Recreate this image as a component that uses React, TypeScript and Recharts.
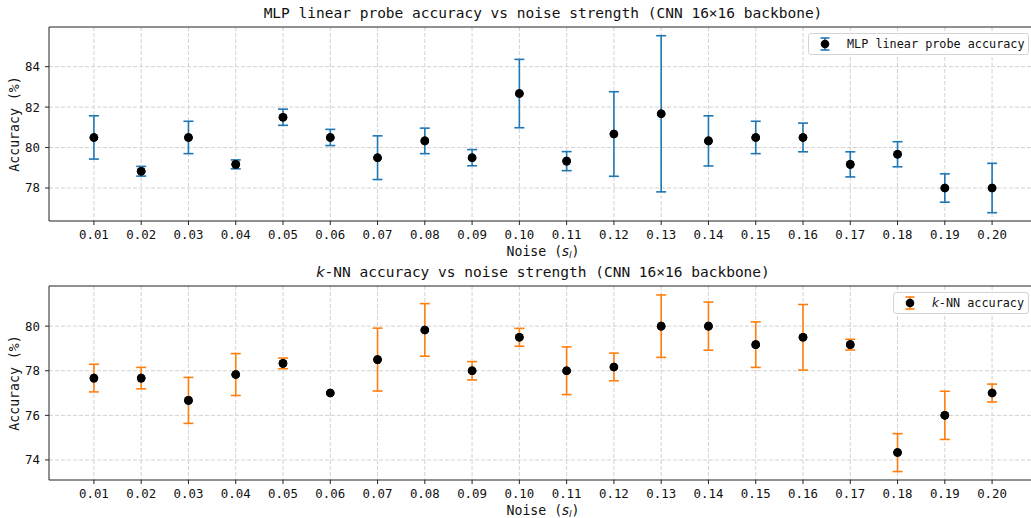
import React from 'react';
import {
  ScatterChart,
  Scatter,
  XAxis,
  YAxis,
  CartesianGrid,
  ErrorBar,
  Legend,
  ReferenceLine,
} from 'recharts';

// ---------- data ----------
const noise = [0.01, 0.02, 0.03, 0.04, 0.05, 0.06, 0.07, 0.08, 0.09, 0.1, 0.11, 0.12, 0.13, 0.14, 0.15, 0.16, 0.17, 0.18, 0.19, 0.2];

const mlpAcc = [80.5, 78.83, 80.5, 79.17, 81.5, 80.5, 79.5, 80.33, 79.5, 82.67, 79.33, 80.67, 81.67, 80.33, 80.5, 80.5, 79.17, 79.67, 78.0, 78.0];
const mlpErr = [1.07, 0.24, 0.8, 0.22, 0.4, 0.4, 1.08, 0.63, 0.4, 1.69, 0.47, 2.09, 3.86, 1.24, 0.8, 0.71, 0.62, 0.62, 0.7, 1.22];

const knnAcc = [77.67, 77.67, 76.67, 77.83, 78.33, 77.0, 78.5, 79.83, 78.0, 79.5, 78.0, 78.17, 80.0, 80.0, 79.17, 79.5, 79.17, 74.33, 76.0, 77.0];
const knnErr = [0.62, 0.48, 1.03, 0.94, 0.24, 0.0, 1.41, 1.18, 0.41, 0.4, 1.07, 0.62, 1.4, 1.08, 1.02, 1.47, 0.24, 0.85, 1.08, 0.4];

const noiseTicks = [0.01, 0.02, 0.03, 0.04, 0.05, 0.06, 0.07, 0.08, 0.09, 0.1, 0.11, 0.12, 0.13, 0.14, 0.15, 0.16, 0.17, 0.18, 0.19, 0.2];
const mlpTicks = [78, 80, 82, 84];
const knnTicks = [74, 76, 78, 80];

const xDomain = [0.0005, 0.2095];
const mlpDomain = [76.37, 85.96];
const knnDomain = [73.1, 81.8];

const BLUE = '#1f77b4';
const ORANGE = '#ff7f0e';
const MONO = '"DejaVu Sans Mono", monospace';
const AXIS = '#222';
const TICK_FS = 12.4;
const LABEL_FS = 13.2;

const mlpData = noise.map((x, i) => ({ x, y: mlpAcc[i], err: mlpErr[i] }));
const knnData = noise.map((x, i) => ({ x, y: knnAcc[i], err: knnErr[i] }));

const Dot = (props: any) => {
  if (props.cx == null || props.cy == null) return null;
  return <circle cx={props.cx} cy={props.cy} r={4.3} fill="#000" />;
};

const XLabel = (props: any) => {
  const vb = props.viewBox || {};
  const cx = vb.x + vb.width / 2;
  const y = vb.y + 34.5;
  return (
    <text x={cx} y={y} textAnchor="middle" fontFamily={MONO} fontSize={LABEL_FS} fill="#111">
      <tspan>Noise (</tspan>
      <tspan fontFamily='"DejaVu Sans", sans-serif' fontStyle="italic">s</tspan>
      <tspan fontFamily='"DejaVu Sans", sans-serif' fontStyle="italic" fontSize={9.2} dy={2.8}>l</tspan>
      <tspan dy={-2.8}>)</tspan>
    </text>
  );
};

const YLabel = () => (
  <text
    x={14}
    y={124}
    transform="rotate(-90 14 124)"
    textAnchor="middle"
    dominantBaseline="central"
    fontFamily={MONO}
    fontSize={LABEL_FS}
    fill="#111"
  >
    Accuracy (%)
  </text>
);

const LegendBox = ({ color, label, width }: { color: string; label: React.ReactNode; width: number }) => (
  <div
    style={{
      width,
      height: 22,
      boxSizing: 'border-box',
      border: '1px solid #d4d4d4',
      borderRadius: 3,
      background: 'rgba(255,255,255,0.85)',
      display: 'flex',
      alignItems: 'center',
      fontFamily: MONO,
      fontSize: 11.8,
      color: '#111',
      whiteSpace: 'nowrap',
    }}
  >
    <svg width={38} height={20} style={{ flex: '0 0 auto' }}>
      <line x1={16} y1={4} x2={16} y2={16} stroke={color} strokeWidth={1.6} />
      <line x1={11.5} y1={4} x2={20.5} y2={4} stroke={color} strokeWidth={1.6} />
      <line x1={11.5} y1={16} x2={20.5} y2={16} stroke={color} strokeWidth={1.6} />
      <circle cx={16} cy={10} r={4.3} fill="#000" />
    </svg>
    <span>{label}</span>
  </div>
);

type PanelProps = {
  data: { x: number; y: number; err: number }[];
  color: string;
  yDomain: number[];
  yTicks: number[];
  legendLabel: React.ReactNode;
  legendLeft: number;
  legendWidth: number;
};

const Panel = ({ data, color, yDomain, yTicks, legendLabel, legendLeft, legendWidth }: PanelProps) => (
  <ScatterChart width={1037} height={259} margin={{ top: 27, right: 0, bottom: 0, left: 0 }}>
    <CartesianGrid stroke="#d2d2d2" strokeDasharray="4 2" horizontalValues={yTicks} verticalValues={noiseTicks} />
    <XAxis
      type="number"
      dataKey="x"
      domain={xDomain}
      allowDataOverflow
      ticks={noiseTicks}
      interval={0}
      tickFormatter={(v: number) => v.toFixed(2)}
      height={38}
      tickSize={4}
      tickMargin={5}
      axisLine={{ stroke: AXIS, strokeWidth: 1 }}
      tickLine={{ stroke: AXIS, strokeWidth: 1 }}
      tick={{ fontFamily: MONO, fontSize: TICK_FS, fill: '#111' }}
      label={<XLabel />}
    />
    <YAxis
      type="number"
      dataKey="y"
      domain={yDomain}
      allowDataOverflow
      ticks={yTicks}
      interval={0}
      width={49}
      tickSize={4}
      tickMargin={5}
      axisLine={{ stroke: AXIS, strokeWidth: 1 }}
      tickLine={{ stroke: AXIS, strokeWidth: 1 }}
      tick={{ fontFamily: MONO, fontSize: TICK_FS, fill: '#111' }}
      label={<YLabel />}
    />
    <ReferenceLine y={yDomain[1]} stroke={AXIS} strokeWidth={1} ifOverflow="visible" />
    <Scatter data={data} fill="#000" shape={<Dot />} isAnimationActive={false} legendType="none">
      <ErrorBar dataKey="err" direction="y" width={5} stroke={color} strokeWidth={1.6} isAnimationActive={false} />
    </Scatter>
    <Scatter data={data} fill="#000" shape={<Dot />} isAnimationActive={false} legendType="none" />
    <Legend
      layout="horizontal"
      verticalAlign="middle"
      align="center"
      wrapperStyle={{ left: legendLeft, top: 33, width: legendWidth, height: 22 }}
      content={() => <LegendBox color={color} label={legendLabel} width={legendWidth} />}
    />
  </ScatterChart>
);

const Title = ({ children, top }: { children: React.ReactNode; top: number }) => (
  <div
    style={{
      position: 'absolute',
      left: 49,
      width: 988,
      top,
      textAlign: 'center',
      fontFamily: MONO,
      fontSize: 14.5,
      lineHeight: '14.5px',
      color: '#111',
      whiteSpace: 'nowrap',
    }}
  >
    {children}
  </div>
);

export default function App() {
  return (
    <div
      style={{
        position: 'absolute',
        left: 0,
        top: 0,
        width: 1031,
        height: 518,
        overflow: 'hidden',
        background: '#fff',
      }}
    >
      <div style={{ position: 'absolute', left: 0, top: 0 }}>
        <Panel
          data={mlpData}
          color={BLUE}
          yDomain={mlpDomain}
          yTicks={mlpTicks}
          legendLabel="MLP linear probe accuracy"
          legendLeft={808}
          legendWidth={221}
        />
      </div>
      <div style={{ position: 'absolute', left: 0, top: 259 }}>
        <Panel
          data={knnData}
          color={ORANGE}
          yDomain={knnDomain}
          yTicks={knnTicks}
          legendLabel={
            <>
              <span style={{ fontFamily: '"DejaVu Sans", sans-serif', fontStyle: 'italic' }}>k</span>-NN accuracy
            </>
          }
          legendLeft={893}
          legendWidth={136}
        />
      </div>
      <Title top={6}>MLP linear probe accuracy vs noise strength (CNN 16×16 backbone)</Title>
      <Title top={265}>
        <span style={{ fontFamily: '"DejaVu Sans", sans-serif', fontStyle: 'italic' }}>k</span>-NN accuracy vs noise strength (CNN 16×16 backbone)
      </Title>
    </div>
  );
}
